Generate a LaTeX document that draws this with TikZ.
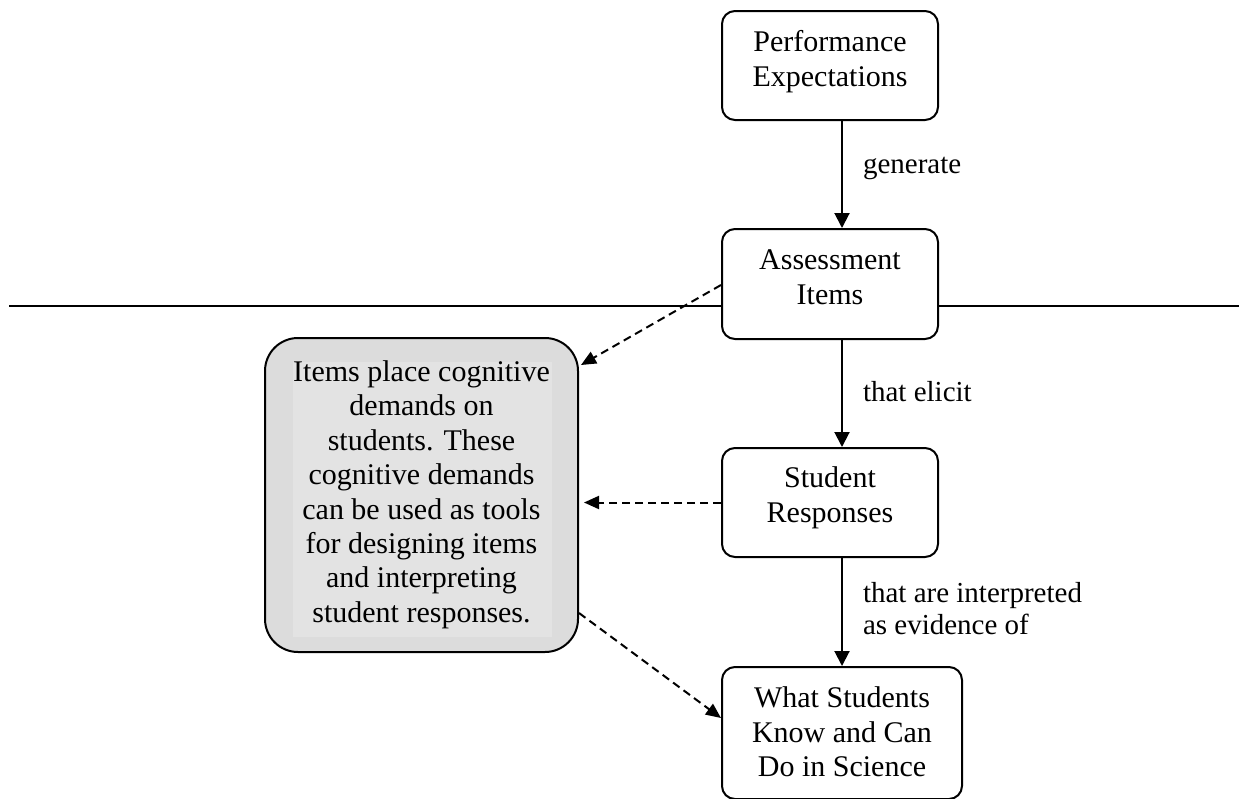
\documentclass[tikz,border=0pt]{standalone}
\usepackage{fontspec}
\setmainfont{Liberation Serif}
\usetikzlibrary{arrows.meta}
\definecolor{noteGray}{HTML}{DCDCDC}
\definecolor{innerGray}{HTML}{E3E3E3}
\newcommand{\liftbox}[2]{\raisebox{#1}[\height][\depth]{\begin{tabular}{@{}c@{}}#2\end{tabular}}}
\begin{document}
\begin{tikzpicture}[x=1pt,y=-1pt,
  every node/.style={font=\fontsize{30pt}{34.4pt}\selectfont},
  flowbox/.style={draw, line width=2pt, rounded corners=13pt, minimum width=216pt, minimum height=109pt, inner sep=0pt, fill=white},
  notebox/.style={draw, line width=2pt, rounded corners=33pt, fill=noteGray, minimum width=313pt, minimum height=314pt, inner sep=0pt,
    path picture={\fill[innerGray, sharp corners] ([xshift=28pt,yshift=-24pt]path picture bounding box.north west) rectangle ([xshift=-26pt,yshift=15pt]path picture bounding box.south east);}},
  flow/.style={line width=2pt, -{Triangle[length=15pt,width=15pt]}},
  hint/.style={line width=2pt, dash pattern=on 8pt off 5pt, -{Triangle[length=15pt,width=13pt]}},
  lbl/.style={anchor=base west, inner sep=0pt, xshift=20pt, font=\fontsize{29pt}{32pt}\selectfont},
  divider/.style={line width=2pt}]
\useasboundingbox (0,0) rectangle (1239,798);

\node[flowbox] (pe) at (830,65.5) {\liftbox{3.2pt}{Performance\\Expectations}};
\node[flowbox, minimum height=110pt] (ai) at (830,284) {\liftbox{3.7pt}{Assessment\\Items}};
\node[flowbox] (sr) at (830,502.5) {\liftbox{4.2pt}{Student\\Responses}};
\node[flowbox, minimum width=240pt, minimum height=132pt] (wk) at (842,733) {\liftbox{-2.5pt}{What Students\\Know and Can\\Do in Science}};
\node[notebox] (gb) at (421.5,495) {\liftbox{0pt}{Items place cognitive\\demands on\\students. These\\cognitive demands\\can be used as tools\\for designing items\\and interpreting\\student responses.}};

\coordinate (dl) at (9,306);
\coordinate (dr) at (1239,306);
\draw[divider] (dl) -- (dl -| ai.west);
\draw[divider] (dr -| ai.east) -- (dr);

\draw[flow] ([xshift=12pt]pe.south) -- node[lbl, pos=0.486] {generate} ([xshift=12pt]ai.north);
\draw[flow] ([xshift=12pt]ai.south) -- node[lbl, pos=0.578] {that elicit} ([xshift=12pt]sr.north);
\draw[flow] ([xshift=12pt]sr.south) -- node[lbl, pos=0.409] {\begin{tabular}[t]{@{}l@{}}that are interpreted\\as evidence of\end{tabular}} (wk.north);

\path (sr.west -| gb.east) coordinate (gbr);
\draw[hint] ([yshift=-1pt]ai.west) -- ([xshift=2pt,yshift=130pt]gb.east);
\draw[hint] (sr.west) -- ([xshift=5pt]gbr);
\draw[hint] ([yshift=-118pt]gb.east) -- ([yshift=15pt]wk.west);
\end{tikzpicture}
\end{document}
